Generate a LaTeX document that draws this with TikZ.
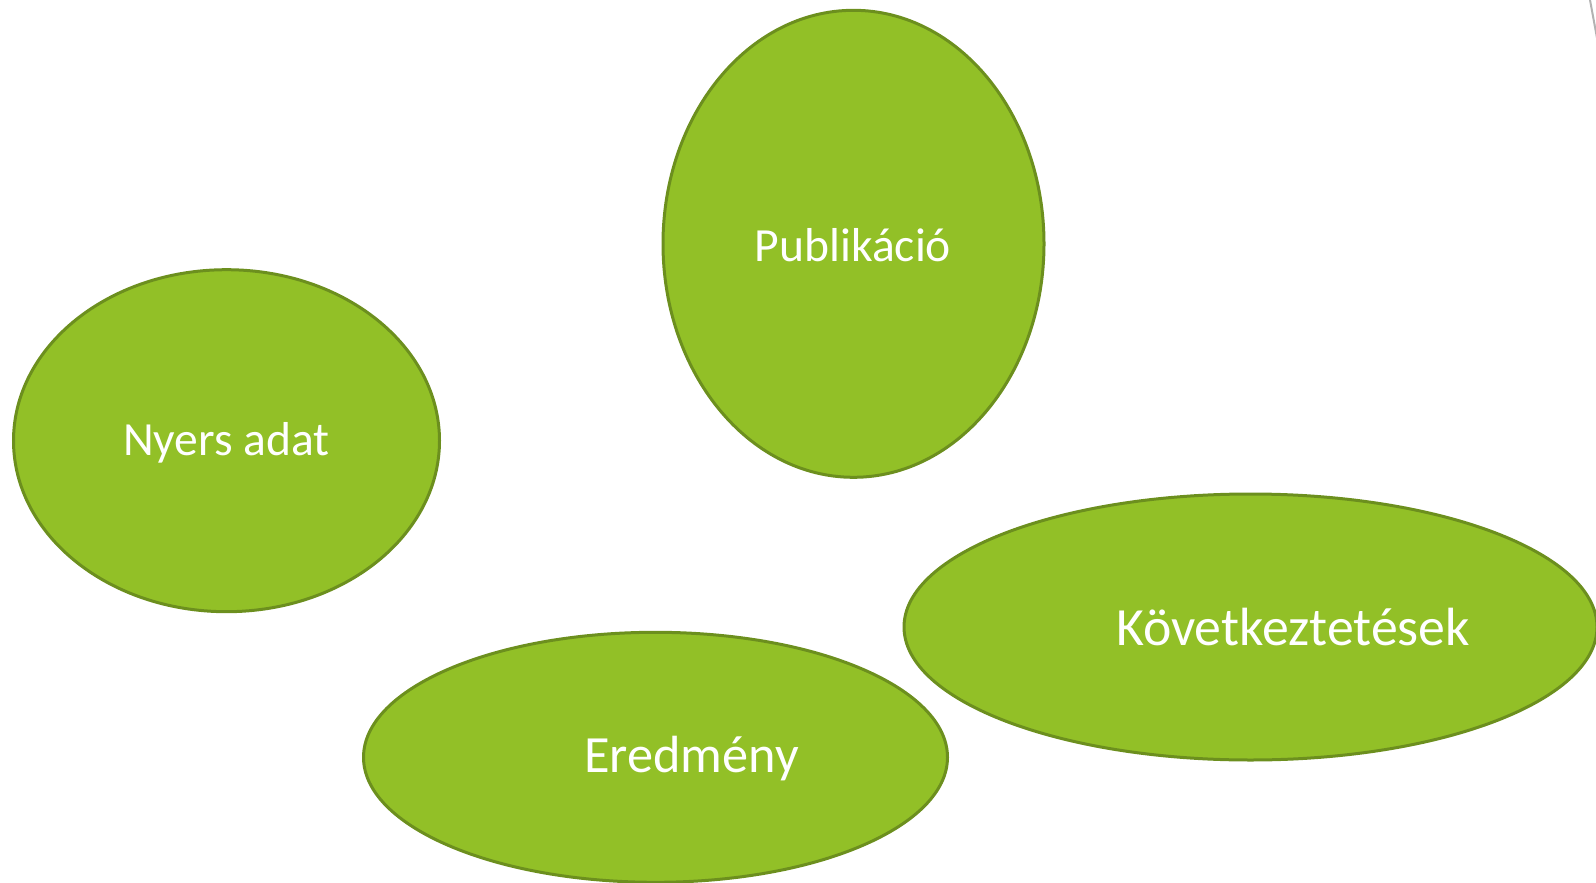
\documentclass[tikz,border=0pt]{standalone}
\usepackage{fontspec}
\setmainfont{Carlito}
\usetikzlibrary{shapes.geometric}
\definecolor{blobfill}{RGB}{146,192,39}
\definecolor{blobline}{RGB}{108,143,30}
\tikzset{
  blob/.style={ellipse, draw=blobline, fill=blobfill, line width=3pt, inner sep=0pt},
  blobtext/.style={text=white, inner sep=0pt, anchor=center},
}
\begin{document}
\begin{tikzpicture}[x=1pt,y=-1pt]
\useasboundingbox (0,0) rectangle (1596,883);
\node[blob, minimum width=381pt, minimum height=467pt] (pub) at (853.5,243.8) {};
\node[blob, minimum width=426pt, minimum height=342pt] (nyers) at (226.5,440.7) {};
\node[blob, minimum width=584pt, minimum height=250pt] (ered) at (655.5,757.3) {};
\node[blob, minimum width=693pt, minimum height=266pt] (kov) at (1250.5,627) {};
\node[blobtext, font=\fontsize{47.6}{54}\selectfont] (pubt) at (853,245) {Publikáció};
\node[blobtext, font=\fontsize{47.6}{54}\selectfont] (nyerst) at (226.5,443) {Nyers adat};
\node[blobtext, font=\fontsize{52.3}{60}\selectfont] (eredt) at (691.6,759) {Eredmény};
\node[blobtext, font=\fontsize{53.8}{60}\selectfont] (kovt) at (1293,627) {Következtetések};
\coordinate (g1) at (1590,0);
\coordinate (g2) at (1597,38);
\draw[gray!60, line width=2pt] (g1) -- (g2);
\end{tikzpicture}
\end{document}
